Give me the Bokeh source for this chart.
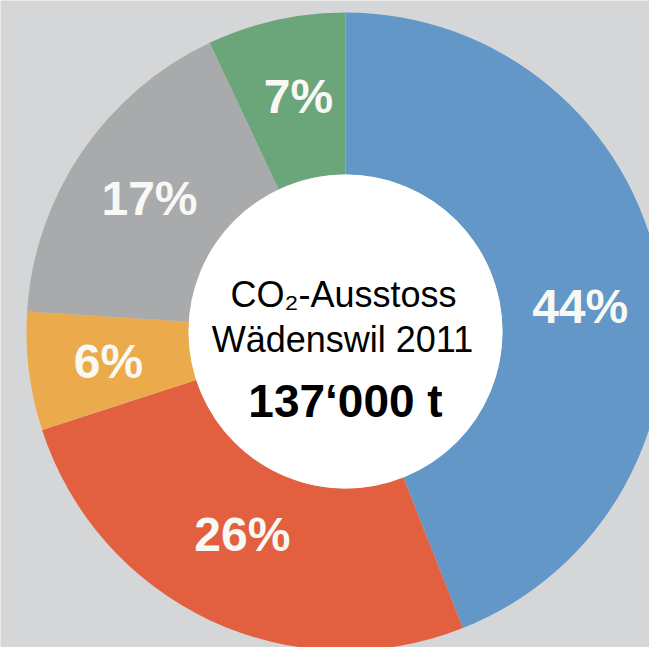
import numpy as np
from bokeh.plotting import figure
from bokeh.models import Range1d, ColumnDataSource
from bokeh.embed import file_html
from bokeh.resources import INLINE
from bokeh.core.properties import value

# ---- data ----
categories = ["Segment A", "Segment B", "Segment C", "Segment D", "Segment E"]
shares = [44, 26, 6, 17, 7]
share_labels = ["44%", "26%", "6%", "17%", "7%"]
colors = ["#6297C7", "#E2603F", "#EBAA4B", "#A8AAAB", "#6BA67A"]
center_lines = ["CO₂-Ausstoss", "Wädenswil 2011"]
total_label = "137‘000 t"

# ---- layout ----
W, H = 649, 647
BG = "#D5D6D7"
cx, cy = 345, 316          # donut centre (data units == pixels, y up)
r_out, r_in = 319, 157
label_r = np.array([236, 228, 239, 237, 240])          # label distance from centre
label_nudge = np.radians([-4.7, -1.7, 0.0, 0.0, -1.3])  # small angular nudges

frac = np.array(shares, dtype=float) / sum(shares)
cum = np.concatenate([[0], np.cumsum(frac)])
start = np.pi / 2 - 2 * np.pi * cum[:-1]
end = np.pi / 2 - 2 * np.pi * cum[1:]
mid = (start + end) / 2 + label_nudge

src = ColumnDataSource(dict(
    cat=categories, start=start, end=end, color=colors,
    lx=cx + label_r * np.cos(mid), ly=cy + label_r * np.sin(mid), lab=share_labels,
))

p = figure(width=W, height=H, output_backend="svg", toolbar_location=None,
           x_range=Range1d(0, W), y_range=Range1d(0, H),
           min_border=0, background_fill_color=BG, border_fill_color=BG,
           outline_line_color=None)
p.axis.visible = False
p.grid.visible = False

p.annular_wedge(x=cx, y=cy, inner_radius=r_in, outer_radius=r_out,
                start_angle="start", end_angle="end", direction="clock",
                fill_color="color", line_color=None, source=src)
p.circle(x=[cx], y=[cy], radius=r_in, fill_color="white", line_color=None)

p.text(x="lx", y="ly", text="lab", source=src, text_color="#F8F8F4",
       text_font=value("Liberation Sans"), text_font_style="bold",
       text_font_size="48px", text_align="center", text_baseline="middle")

p.text(x=[343, 342], y=[353, 308], text=center_lines, text_color="black",
       text_font=value("Liberation Sans"), text_font_size="36px",
       text_align="center", text_baseline="middle")
p.text(x=[345], y=[247], text=[total_label], text_color="black",
       text_font=value("Liberation Sans"), text_font_style="bold",
       text_font_size="46px", text_align="center", text_baseline="middle")

open("out.html", "w").write(file_html(p, INLINE))
